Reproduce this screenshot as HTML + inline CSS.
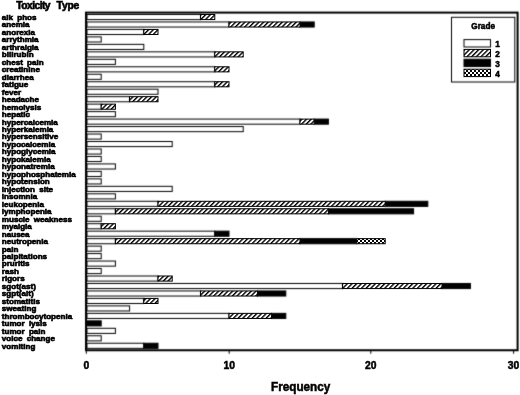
<!DOCTYPE html><html><head><meta charset="utf-8"><style>html,body{margin:0;padding:0;background:#fff;width:520px;height:395px;overflow:hidden}svg{display:block}text{font-family:"Liberation Sans",Arial,sans-serif;font-weight:bold;fill:#000;stroke:#000;stroke-width:0.5px}.lab text{stroke-width:0.62px}.ttl{stroke-width:0.6px}</style></head><body>
<svg width="520" height="395" viewBox="0 0 520 395">
<defs>
<filter id="bl" filterUnits="userSpaceOnUse" x="0" y="0" width="520" height="395" color-interpolation-filters="sRGB"><feConvolveMatrix order="3" kernelMatrix="1 6 1 6 36 6 1 6 1" targetX="1" targetY="1" edgeMode="none"/></filter>
<pattern id="hatch" patternUnits="userSpaceOnUse" width="3.3" height="3.3" patternTransform="rotate(45)"><rect width="3.3" height="3.3" fill="#fff"/><rect width="1.4" height="3.3" fill="#000"/></pattern>
<pattern id="check" patternUnits="userSpaceOnUse" x="0" y="0" width="4" height="4"><rect width="4" height="4" fill="#fff"/><rect width="2" height="2" fill="#000"/><rect x="2" y="2" width="2" height="2" fill="#000"/></pattern>
</defs>
<rect width="520" height="395" fill="#fff"/>
<g filter="url(#bl)">
<rect x="87.00" y="14.48" width="113.60" height="5.1" fill="#fff" stroke="#000" stroke-width="1"/>
<rect x="87.00" y="21.95" width="142.00" height="5.1" fill="#fff" stroke="#000" stroke-width="1"/>
<rect x="300.00" y="21.95" width="14.20" height="5.1" fill="#000" stroke="#000" stroke-width="1"/>
<rect x="87.00" y="29.42" width="56.80" height="5.1" fill="#fff" stroke="#000" stroke-width="1"/>
<rect x="87.00" y="36.89" width="14.20" height="5.1" fill="#fff" stroke="#000" stroke-width="1"/>
<rect x="87.00" y="44.36" width="56.80" height="5.1" fill="#fff" stroke="#000" stroke-width="1"/>
<rect x="87.00" y="51.84" width="127.80" height="5.1" fill="#fff" stroke="#000" stroke-width="1"/>
<rect x="87.00" y="59.31" width="28.40" height="5.1" fill="#fff" stroke="#000" stroke-width="1"/>
<rect x="87.00" y="66.78" width="127.80" height="5.1" fill="#fff" stroke="#000" stroke-width="1"/>
<rect x="87.00" y="74.25" width="14.20" height="5.1" fill="#fff" stroke="#000" stroke-width="1"/>
<rect x="87.00" y="81.72" width="127.80" height="5.1" fill="#fff" stroke="#000" stroke-width="1"/>
<rect x="87.00" y="89.20" width="71.00" height="5.1" fill="#fff" stroke="#000" stroke-width="1"/>
<rect x="87.00" y="96.67" width="42.60" height="5.1" fill="#fff" stroke="#000" stroke-width="1"/>
<rect x="87.00" y="104.14" width="14.20" height="5.1" fill="#fff" stroke="#000" stroke-width="1"/>
<rect x="87.00" y="111.61" width="28.40" height="5.1" fill="#fff" stroke="#000" stroke-width="1"/>
<rect x="87.00" y="119.08" width="213.00" height="5.1" fill="#fff" stroke="#000" stroke-width="1"/>
<rect x="314.20" y="119.08" width="14.20" height="5.1" fill="#000" stroke="#000" stroke-width="1"/>
<rect x="87.00" y="126.56" width="156.20" height="5.1" fill="#fff" stroke="#000" stroke-width="1"/>
<rect x="87.00" y="134.03" width="14.20" height="5.1" fill="#fff" stroke="#000" stroke-width="1"/>
<rect x="87.00" y="141.50" width="85.20" height="5.1" fill="#fff" stroke="#000" stroke-width="1"/>
<rect x="87.00" y="148.97" width="14.20" height="5.1" fill="#fff" stroke="#000" stroke-width="1"/>
<rect x="87.00" y="156.44" width="14.20" height="5.1" fill="#fff" stroke="#000" stroke-width="1"/>
<rect x="87.00" y="163.92" width="28.40" height="5.1" fill="#fff" stroke="#000" stroke-width="1"/>
<rect x="87.00" y="171.39" width="14.20" height="5.1" fill="#fff" stroke="#000" stroke-width="1"/>
<rect x="87.00" y="178.86" width="14.20" height="5.1" fill="#fff" stroke="#000" stroke-width="1"/>
<rect x="87.00" y="186.33" width="85.20" height="5.1" fill="#fff" stroke="#000" stroke-width="1"/>
<rect x="87.00" y="193.80" width="28.40" height="5.1" fill="#fff" stroke="#000" stroke-width="1"/>
<rect x="87.00" y="201.28" width="71.00" height="5.1" fill="#fff" stroke="#000" stroke-width="1"/>
<rect x="385.20" y="201.28" width="42.60" height="5.1" fill="#000" stroke="#000" stroke-width="1"/>
<rect x="87.00" y="208.75" width="28.40" height="5.1" fill="#fff" stroke="#000" stroke-width="1"/>
<rect x="328.40" y="208.75" width="85.20" height="5.1" fill="#000" stroke="#000" stroke-width="1"/>
<rect x="87.00" y="216.22" width="14.20" height="5.1" fill="#fff" stroke="#000" stroke-width="1"/>
<rect x="87.00" y="223.69" width="14.20" height="5.1" fill="#fff" stroke="#000" stroke-width="1"/>
<rect x="87.00" y="231.16" width="127.80" height="5.1" fill="#fff" stroke="#000" stroke-width="1"/>
<rect x="214.80" y="231.16" width="14.20" height="5.1" fill="#000" stroke="#000" stroke-width="1"/>
<rect x="87.00" y="238.64" width="28.40" height="5.1" fill="#fff" stroke="#000" stroke-width="1"/>
<rect x="300.00" y="238.64" width="56.80" height="5.1" fill="#000" stroke="#000" stroke-width="1"/>
<rect x="87.00" y="246.11" width="14.20" height="5.1" fill="#fff" stroke="#000" stroke-width="1"/>
<rect x="87.00" y="253.58" width="14.20" height="5.1" fill="#fff" stroke="#000" stroke-width="1"/>
<rect x="87.00" y="261.05" width="28.40" height="5.1" fill="#fff" stroke="#000" stroke-width="1"/>
<rect x="87.00" y="268.52" width="14.20" height="5.1" fill="#fff" stroke="#000" stroke-width="1"/>
<rect x="87.00" y="276.00" width="71.00" height="5.1" fill="#fff" stroke="#000" stroke-width="1"/>
<rect x="87.00" y="283.47" width="255.60" height="5.1" fill="#fff" stroke="#000" stroke-width="1"/>
<rect x="442.00" y="283.47" width="28.40" height="5.1" fill="#000" stroke="#000" stroke-width="1"/>
<rect x="87.00" y="290.94" width="113.60" height="5.1" fill="#fff" stroke="#000" stroke-width="1"/>
<rect x="257.40" y="290.94" width="28.40" height="5.1" fill="#000" stroke="#000" stroke-width="1"/>
<rect x="87.00" y="298.41" width="56.80" height="5.1" fill="#fff" stroke="#000" stroke-width="1"/>
<rect x="87.00" y="305.88" width="42.60" height="5.1" fill="#fff" stroke="#000" stroke-width="1"/>
<rect x="87.00" y="313.36" width="142.00" height="5.1" fill="#fff" stroke="#000" stroke-width="1"/>
<rect x="271.60" y="313.36" width="14.20" height="5.1" fill="#000" stroke="#000" stroke-width="1"/>
<rect x="87.00" y="320.83" width="14.20" height="5.1" fill="#000" stroke="#000" stroke-width="1"/>
<rect x="87.00" y="328.30" width="28.40" height="5.1" fill="#fff" stroke="#000" stroke-width="1"/>
<rect x="87.00" y="335.77" width="14.20" height="5.1" fill="#fff" stroke="#000" stroke-width="1"/>
<rect x="87.00" y="343.24" width="56.80" height="5.1" fill="#fff" stroke="#000" stroke-width="1"/>
<rect x="143.80" y="343.24" width="14.20" height="5.1" fill="#000" stroke="#000" stroke-width="1"/>
<rect x="86.0" y="12.6" width="431.6" height="337.65" fill="none" stroke="#000" stroke-width="2"/>
<line x1="86.3" y1="350.25" x2="86.3" y2="353.75" stroke="#000" stroke-width="1"/>
<line x1="229.2" y1="350.25" x2="229.2" y2="353.75" stroke="#000" stroke-width="1"/>
<line x1="370.8" y1="350.25" x2="370.8" y2="353.75" stroke="#000" stroke-width="1"/>
<line x1="513.6" y1="350.25" x2="513.6" y2="353.75" stroke="#000" stroke-width="1"/>
<rect x="451.5" y="17.3" width="63.299999999999955" height="64.7" fill="#fff" stroke="#000" stroke-width="1"/>
<rect x="464" y="39.6" width="26.5" height="7.4" fill="#fff" stroke="#000" stroke-width="1"/>
<rect x="464" y="59.2" width="26.5" height="7.4" fill="#000" stroke="#000" stroke-width="1"/>
</g>
<rect x="200.60" y="14.48" width="14.20" height="5.1" fill="url(#hatch)" stroke="#000" stroke-width="1"/>
<rect x="229.00" y="21.95" width="71.00" height="5.1" fill="url(#hatch)" stroke="#000" stroke-width="1"/>
<rect x="143.80" y="29.42" width="14.20" height="5.1" fill="url(#hatch)" stroke="#000" stroke-width="1"/>
<rect x="214.80" y="51.84" width="28.40" height="5.1" fill="url(#hatch)" stroke="#000" stroke-width="1"/>
<rect x="214.80" y="66.78" width="14.20" height="5.1" fill="url(#hatch)" stroke="#000" stroke-width="1"/>
<rect x="214.80" y="81.72" width="14.20" height="5.1" fill="url(#hatch)" stroke="#000" stroke-width="1"/>
<rect x="129.60" y="96.67" width="28.40" height="5.1" fill="url(#hatch)" stroke="#000" stroke-width="1"/>
<rect x="101.20" y="104.14" width="14.20" height="5.1" fill="url(#hatch)" stroke="#000" stroke-width="1"/>
<rect x="300.00" y="119.08" width="14.20" height="5.1" fill="url(#hatch)" stroke="#000" stroke-width="1"/>
<rect x="158.00" y="201.28" width="227.20" height="5.1" fill="url(#hatch)" stroke="#000" stroke-width="1"/>
<rect x="115.40" y="208.75" width="213.00" height="5.1" fill="url(#hatch)" stroke="#000" stroke-width="1"/>
<rect x="101.20" y="223.69" width="14.20" height="5.1" fill="url(#hatch)" stroke="#000" stroke-width="1"/>
<rect x="115.40" y="238.64" width="184.60" height="5.1" fill="url(#hatch)" stroke="#000" stroke-width="1"/>
<rect x="356.80" y="238.64" width="28.40" height="5.1" fill="url(#check)" stroke="#000" stroke-width="1"/>
<rect x="158.00" y="276.00" width="14.20" height="5.1" fill="url(#hatch)" stroke="#000" stroke-width="1"/>
<rect x="342.60" y="283.47" width="99.40" height="5.1" fill="url(#hatch)" stroke="#000" stroke-width="1"/>
<rect x="200.60" y="290.94" width="56.80" height="5.1" fill="url(#hatch)" stroke="#000" stroke-width="1"/>
<rect x="143.80" y="298.41" width="14.20" height="5.1" fill="url(#hatch)" stroke="#000" stroke-width="1"/>
<rect x="229.00" y="313.36" width="42.60" height="5.1" fill="url(#hatch)" stroke="#000" stroke-width="1"/>
<rect x="464" y="49.4" width="26.5" height="7.4" fill="url(#hatch)" stroke="#000" stroke-width="1"/>
<rect x="464" y="69.2" width="26.5" height="7.4" fill="url(#check)" stroke="#000" stroke-width="1"/>
<text class="ttl" y="9.2" font-size="10.3"><tspan x="16.2" textLength="34.4" lengthAdjust="spacing">Toxicity</tspan> <tspan x="56.6" textLength="22.6" lengthAdjust="spacing">Type</tspan></text>
<g class="lab" font-size="7.7" word-spacing="1.9" transform="translate(1.8,0) scale(1.05,1)">
<text x="0" y="19.93">alk phos</text>
<text x="0" y="27.40">anemia</text>
<text x="0" y="34.87">anorexia</text>
<text x="0" y="42.34">arrythmia</text>
<text x="0" y="49.81">arthralgia</text>
<text x="0" y="57.29">bilirubin</text>
<text x="0" y="64.76">chest pain</text>
<text x="0" y="72.23">creatinine</text>
<text x="0" y="79.70">diarrhea</text>
<text x="0" y="87.17">fatigue</text>
<text x="0" y="94.65">fever</text>
<text x="0" y="102.12">headache</text>
<text x="0" y="109.59">hemolysis</text>
<text x="0" y="117.06">hepatic</text>
<text x="0" y="124.53">hypercalcemia</text>
<text x="0" y="132.01">hyperkalemia</text>
<text x="0" y="139.48">hypersensitive</text>
<text x="0" y="146.95">hypocalcemia</text>
<text x="0" y="154.42">hypoglycemia</text>
<text x="0" y="161.89">hypokalemia</text>
<text x="0" y="169.37">hyponatremia</text>
<text x="0" y="176.84">hypophosphatemia</text>
<text x="0" y="184.31">hypotension</text>
<text x="0" y="191.78">injection site</text>
<text x="0" y="199.25">insomnia</text>
<text x="0" y="206.73">leukopenia</text>
<text x="0" y="214.20">lymphopenia</text>
<text x="0" y="221.67">muscle weakness</text>
<text x="0" y="229.14">myalgia</text>
<text x="0" y="236.61">nausea</text>
<text x="0" y="244.09">neutropenia</text>
<text x="0" y="251.56">pain</text>
<text x="0" y="259.03">palpitations</text>
<text x="0" y="266.50">pruritis</text>
<text x="0" y="273.97">rash</text>
<text x="0" y="281.45">rigors</text>
<text x="0" y="288.92">sgot(ast)</text>
<text x="0" y="296.39">sgpt(alt)</text>
<text x="0" y="303.86">stomatitis</text>
<text x="0" y="311.33">sweating</text>
<text x="0" y="318.81">thrombocytopenia</text>
<text x="0" y="326.28">tumor lysis</text>
<text x="0" y="333.75">tumor pain</text>
<text x="0" y="341.22">voice change</text>
<text x="0" y="348.69">vomiting</text>
</g>
<text x="86.3" y="368.8" font-size="10.3" text-anchor="middle">0</text>
<text x="229.2" y="368.8" font-size="10.3" text-anchor="middle">10</text>
<text x="370.8" y="368.8" font-size="10.3" text-anchor="middle">20</text>
<text x="513.6" y="368.8" font-size="10.3" text-anchor="middle">30</text>
<text x="271" y="390.9" font-size="11.9" textLength="59.3" lengthAdjust="spacingAndGlyphs">Frequency</text>
<text x="471.3" y="28.8" font-size="8.2" textLength="23.7" lengthAdjust="spacingAndGlyphs">Grade</text>
<text x="495.3" y="47.1" font-size="8.2">1</text>
<text x="495.3" y="57.4" font-size="8.2">2</text>
<text x="495.3" y="67" font-size="8.2">3</text>
<text x="495.3" y="77" font-size="8.2">4</text>
</svg></body></html>
